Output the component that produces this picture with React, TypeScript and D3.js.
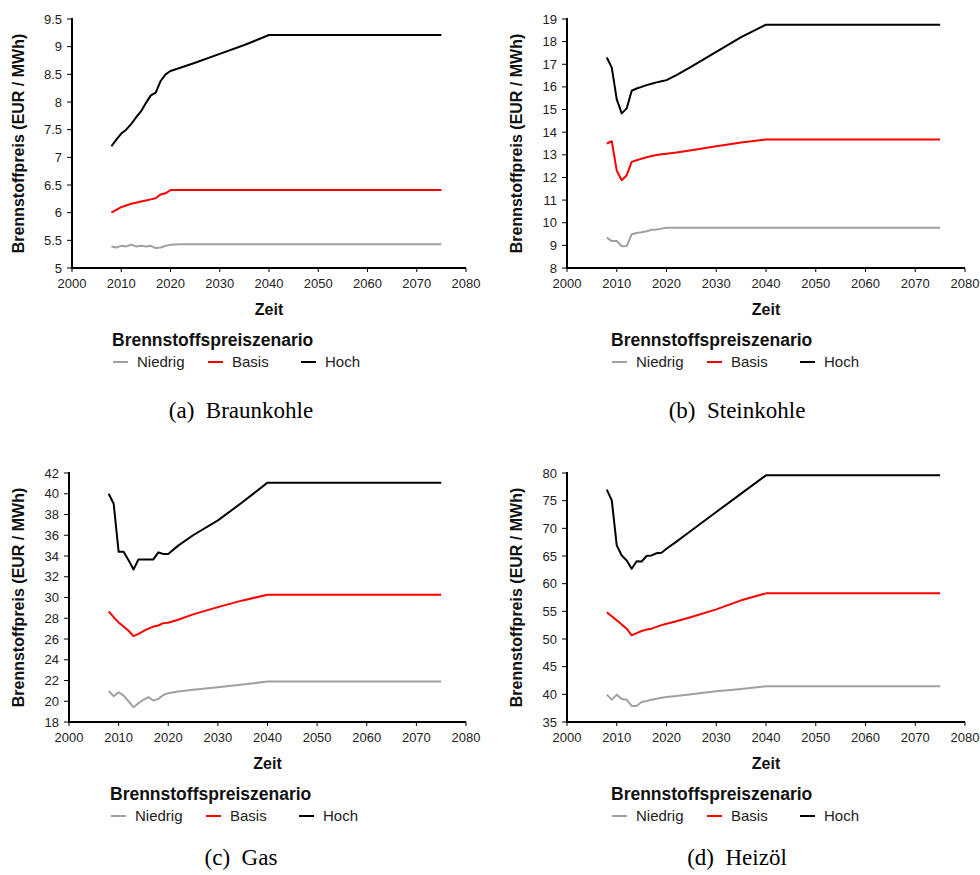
import React from "react";
import * as d3 from "d3";

const YEARS = [2008, 2009, 2010, 2011, 2012, 2013, 2014, 2015, 2016, 2017, 2018, 2019, 2020, 2022, 2025, 2030, 2035, 2040, 2075];
const SCENARIOS = ["Niedrig", "Basis", "Hoch"];
const X_TICKS = [2000, 2010, 2020, 2030, 2040, 2050, 2060, 2070, 2080];

const braunNiedrig = [5.39, 5.37, 5.4, 5.39, 5.42, 5.39, 5.4, 5.39, 5.4, 5.36, 5.37, 5.4, 5.42, 5.43, 5.43, 5.43, 5.43, 5.43, 5.43];
const braunBasis = [6.0, 6.05, 6.1, 6.13, 6.16, 6.18, 6.2, 6.22, 6.24, 6.26, 6.33, 6.35, 6.41, 6.41, 6.41, 6.41, 6.41, 6.41, 6.41];
const braunHoch = [7.2, 7.32, 7.43, 7.5, 7.6, 7.72, 7.83, 7.98, 8.12, 8.17, 8.38, 8.5, 8.56, 8.62, 8.71, 8.87, 9.03, 9.21, 9.21];

const steinNiedrig = [9.34, 9.19, 9.19, 8.96, 8.97, 9.49, 9.55, 9.58, 9.62, 9.69, 9.7, 9.74, 9.78, 9.78, 9.78, 9.78, 9.78, 9.78, 9.78];
const steinBasis = [13.5, 13.6, 12.3, 11.88, 12.1, 12.69, 12.76, 12.83, 12.89, 12.95, 12.99, 13.02, 13.05, 13.1, 13.2, 13.38, 13.54, 13.68, 13.68];
const steinHoch = [17.3, 16.85, 15.45, 14.83, 15.05, 15.83, 15.93, 16.0, 16.08, 16.14, 16.2, 16.25, 16.3, 16.52, 16.9, 17.55, 18.2, 18.75, 18.75];

const gasNiedrig = [20.97, 20.49, 20.87, 20.55, 20.0, 19.43, 19.81, 20.14, 20.39, 20.07, 20.23, 20.6, 20.78, 20.94, 21.1, 21.36, 21.62, 21.9, 21.9];
const gasBasis = [28.66, 28.1, 27.6, 27.2, 26.8, 26.28, 26.5, 26.76, 27.0, 27.2, 27.3, 27.53, 27.56, 27.85, 28.37, 29.07, 29.72, 30.26, 30.26];
const gasHoch = [40.0, 39.04, 34.4, 34.4, 33.6, 32.7, 33.67, 33.67, 33.67, 33.67, 34.35, 34.2, 34.2, 35.0, 36.0, 37.43, 39.2, 41.07, 41.07];

const oelNiedrig = [39.94, 39.04, 39.94, 39.16, 39.04, 37.9, 37.9, 38.6, 38.8, 39.04, 39.2, 39.4, 39.5, 39.7, 40.0, 40.54, 40.96, 41.45, 41.45];
const oelBasis = [54.82, 54.1, 53.37, 52.6, 51.87, 50.66, 51.05, 51.45, 51.7, 51.87, 52.2, 52.5, 52.77, 53.2, 53.98, 55.36, 56.99, 58.25, 58.25];
const oelHoch = [76.99, 75.06, 66.93, 65.1, 64.2, 62.7, 64.04, 64.0, 65.0, 65.1, 65.5, 65.6, 66.3, 67.6, 69.6, 72.95, 76.27, 79.58, 79.58];

const braunYTicks = [5, 5.5, 6, 6.5, 7, 7.5, 8, 8.5, 9, 9.5];
const steinYTicks = [8, 9, 10, 11, 12, 13, 14, 15, 16, 17, 18, 19];
const gasYTicks = [18, 20, 22, 24, 26, 28, 30, 32, 34, 36, 38, 40, 42];
const oelYTicks = [35, 40, 45, 50, 55, 60, 65, 70, 75, 80];

const COLORS = ["#a0a0a0", "#ff0000", "#000000"];

const SANS = "'Liberation Sans', Arial, sans-serif";
const SERIF = "'Liberation Serif', 'Times New Roman', serif";

type PanelProps = {
  series: number[][];
  yTicks: number[];
  label: string;
  caption: string;
  left: number;
  right: number;
  top: number;
  bottom: number;
  labelX: number;
  legendX: number;
  captionX: number;
  captionDy: number;
};

function Panel(p: PanelProps) {
  const x = d3.scaleLinear().domain([2000, 2080]).range([p.left, p.right]);
  const y = d3
    .scaleLinear()
    .domain([p.yTicks[0], p.yTicks[p.yTicks.length - 1]])
    .range([p.bottom, p.top]);
  const line = d3
    .line<number>()
    .x((_, i) => x(YEARS[i]))
    .y((d) => y(d));
  const midX = (p.left + p.right) / 2;
  const midY = (p.top + p.bottom) / 2;
  const fmt = (v: number) => (Number.isInteger(v) ? String(v) : v.toFixed(1));
  const legendItemX = [0, 95, 188];
  return (
    <g>
      {p.series.map((s, i) => (
        <path
          key={i}
          d={line(s) || ""}
          fill="none"
          stroke={COLORS[i]}
          strokeWidth={2}
          strokeLinejoin="round"
        />
      ))}
      {/* y axis */}
      <line x1={p.left} x2={p.left} y1={p.top - 1} y2={p.bottom + 1} stroke="#000" strokeWidth={2} />
      {p.yTicks.map((t) => (
        <g key={t}>
          <line x1={p.left - 5} x2={p.left} y1={y(t)} y2={y(t)} stroke="#000" strokeWidth={1} />
          <text
            x={p.left - 10}
            y={y(t)}
            dy="0.35em"
            textAnchor="end"
            fontFamily={SANS}
            fontSize={13}
            fill="#222"
          >
            {fmt(t)}
          </text>
        </g>
      ))}
      {/* x axis */}
      <line x1={p.left - 1} x2={p.right} y1={p.bottom} y2={p.bottom} stroke="#000" strokeWidth={2} />
      {X_TICKS.map((t) => (
        <g key={t}>
          <line x1={x(t)} x2={x(t)} y1={p.bottom} y2={p.bottom + 4} stroke="#000" strokeWidth={1} />
          <text
            x={x(t)}
            y={p.bottom + 20}
            textAnchor="middle"
            fontFamily={SANS}
            fontSize={13}
            fill="#222"
          >
            {t}
          </text>
        </g>
      ))}
      <text
        transform={`translate(${p.labelX},${midY}) rotate(-90)`}
        textAnchor="middle"
        fontFamily={SANS}
        fontWeight="bold"
        fontSize={16}
        fill="#111"
      >
        {p.label}
      </text>
      <text
        x={midX}
        y={p.bottom + 47}
        textAnchor="middle"
        fontFamily={SANS}
        fontWeight="bold"
        fontSize={16}
        fill="#111"
      >
        Zeit
      </text>
      <text
        x={p.legendX}
        y={p.bottom + 78}
        fontFamily={SANS}
        fontWeight="bold"
        fontSize={17.5}
        fill="#111"
      >
        Brennstoffspreiszenario
      </text>
      {SCENARIOS.map((s, i) => (
        <g key={s} transform={`translate(${p.legendX + legendItemX[i]},${p.bottom + 94})`}>
          <line x1={1} x2={16} y1={0} y2={0} stroke={COLORS[i]} strokeWidth={2} />
          <text x={25} y={0} dy="0.35em" fontFamily={SANS} fontSize={15} fill="#222">
            {s}
          </text>
        </g>
      ))}
      <text
        x={p.captionX}
        y={p.bottom + p.captionDy}
        textAnchor="middle"
        fontFamily={SERIF}
        fontSize={23}
        fill="#000"
      >
        {p.caption}
      </text>
    </g>
  );
}

export default function App() {
  const label = "Brennstoffpreis (EUR / MWh)";
  return (
    <svg width={980} height={875} style={{ display: "block", position: "absolute", left: 0, top: 0, background: "#fff" }}>
      <rect width={980} height={875} fill="#fff" />
      <Panel
        series={[braunNiedrig, braunBasis, braunHoch]}
        yTicks={braunYTicks}
        label={label}
        caption={"(a)\u2002Braunkohle"}
        left={72}
        right={466}
        top={19}
        bottom={268}
        labelX={24}
        legendX={112}
        captionX={241}
        captionDy={150}
      />
      <Panel
        series={[steinNiedrig, steinBasis, steinHoch]}
        yTicks={steinYTicks}
        label={label}
        caption={"(b)\u2002Steinkohle"}
        left={567}
        right={965}
        top={19}
        bottom={268}
        labelX={522}
        legendX={611}
        captionX={737}
        captionDy={150}
      />
      <Panel
        series={[gasNiedrig, gasBasis, gasHoch]}
        yTicks={gasYTicks}
        label={label}
        caption={"(c)\u2002Gas"}
        left={69}
        right={466}
        top={473}
        bottom={722}
        labelX={24}
        legendX={110}
        captionX={241}
        captionDy={143}
      />
      <Panel
        series={[oelNiedrig, oelBasis, oelHoch]}
        yTicks={oelYTicks}
        label={label}
        caption={"(d)\u2002Heizöl"}
        left={567}
        right={965}
        top={473}
        bottom={722}
        labelX={522}
        legendX={611}
        captionX={737}
        captionDy={143}
      />
    </svg>
  );
}
